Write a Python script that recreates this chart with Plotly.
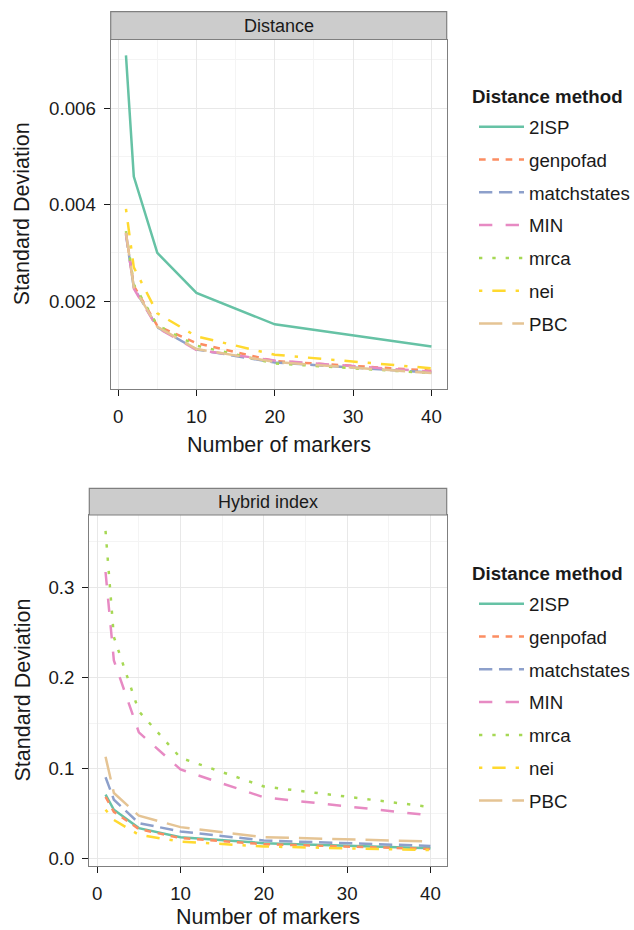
import plotly.graph_objects as go

# ---------------- data ----------------
markers = [1, 2, 5, 10, 20, 40]
methods = ["2ISP", "genpofad", "matchstates", "MIN", "mrca", "nei", "PBC"]

dist_2ISP = [0.00709, 0.00458, 0.00300, 0.00217, 0.00152, 0.00106]
dist_genpofad = [0.00341, 0.00232, 0.00149, 0.00113, 0.00076, 0.00056]
dist_matchstates = [0.00338, 0.00228, 0.00146, 0.00100, 0.00073, 0.00052]
dist_MIN = [0.00340, 0.00226, 0.00145, 0.00099, 0.00077, 0.00054]
dist_mrca = [0.00345, 0.00235, 0.00150, 0.00108, 0.00071, 0.00051]
dist_nei = [0.00391, 0.00270, 0.00175, 0.00127, 0.00089, 0.00061]
dist_PBC = [0.00342, 0.00229, 0.00147, 0.00101, 0.00074, 0.00051]

hyb_2ISP = [0.0710, 0.0543, 0.0340, 0.0240, 0.0174, 0.0118]
hyb_genpofad = [0.0684, 0.0520, 0.0330, 0.0230, 0.0163, 0.0110]
hyb_matchstates = [0.0902, 0.0654, 0.0395, 0.0303, 0.0203, 0.0144]
hyb_MIN = [0.3167, 0.2190, 0.1397, 0.0987, 0.0680, 0.0480]
hyb_mrca = [0.3620, 0.2450, 0.1630, 0.1116, 0.0800, 0.0573]
hyb_nei = [0.0543, 0.0430, 0.0266, 0.0192, 0.0137, 0.0098]
hyb_PBC = [0.1127, 0.0728, 0.0477, 0.0351, 0.0240, 0.0192]

x_ticks = [0, 10, 20, 30, 40]
dist_ticks = [0.002, 0.004, 0.006]
dist_ticktext = ["0.002", "0.004", "0.006"]
hyb_ticks = [0.0, 0.1, 0.2, 0.3]
hyb_ticktext = ["0.0", "0.1", "0.2", "0.3"]

dist_series = [dist_2ISP, dist_genpofad, dist_matchstates, dist_MIN, dist_mrca, dist_nei, dist_PBC]
hyb_series = [hyb_2ISP, hyb_genpofad, hyb_matchstates, hyb_MIN, hyb_mrca, hyb_nei, hyb_PBC]

# ---------------- styles ----------------
colors = ["#66C2A5", "#FC8D62", "#8DA0CB", "#E78AC3", "#A6D854", "#FFD92F", "#E5C494"]
u = 3.33
def pat(*units):
    return ",".join(f"{n*u:.2f}px" for n in units)
dashes = ["solid", pat(2, 2), pat(4, 2), pat(4, 4), pat(1, 3), pat(1, 3, 4, 3), pat(7, 3)]

W, H = 634, 930
FONT = "Liberation Sans, Arial, Helvetica, sans-serif"
INK = "#1a1a1a"
SMALL = 18.7

def px_x(p):
    return p / W
def px_y(p):
    return 1 - p / H

def expand(vals, f=0.05):
    lo, hi = min(vals), max(vals)
    d = (hi - lo) * f
    return [lo - d, hi + d]

fig = go.Figure()

panels = [
    dict(series=dist_series, xa="x", ya="y", legend="legend", grp="d"),
    dict(series=hyb_series, xa="x2", ya="y2", legend="legend2", grp="h"),
]
for p in panels:
    for name, ys, c, d in zip(methods, p["series"], colors, dashes):
        fig.add_trace(go.Scatter(
            x=markers, y=ys, mode="lines", name=name,
            line=dict(color=c, width=2.5, dash=d),
            xaxis=p["xa"], yaxis=p["ya"], legend=p["legend"],
            legendgroup=p["grp"] + name,
        ))

xr = expand(markers)
dist_all = [v for s in dist_series for v in s]
hyb_all = [v for s in hyb_series for v in s]

common_axis = dict(
    showline=True, linecolor="#7F7F7F", linewidth=1.2, mirror=True,
    ticks="outside", ticklen=6, tickwidth=1.3, tickcolor=INK,
    showgrid=True, gridcolor="#E8E8E8", gridwidth=1.2, zeroline=False,
    tickfont=dict(family=FONT, size=SMALL, color=INK),
    ticklabelstandoff=4,
)
title_font = dict(family=FONT, size=21.5, color=INK)
minor_style = dict(showgrid=True, gridcolor="#F4F4F4", gridwidth=1.0, ticks="")

# panel pixel boxes
top_box = dict(x0=110.7, x1=446.7, y0=39.5, y1=389.0, s0=11.7, leg=126, title=97, xt=445)
bot_box = dict(x0=89.3, x1=446.7, y0=515.0, y1=866.0, s0=488.3, leg=603, title=573, xt=916.5)

legend_common = dict(xanchor="left", yanchor="top",
                     font=dict(family=FONT, size=SMALL, color=INK), traceorder="grouped",
                     tracegroupgap=5.5, itemwidth=45, bgcolor="rgba(0,0,0,0)",
                     title=dict(text=""))

fig.update_layout(
    width=W, height=H, paper_bgcolor="white", plot_bgcolor="white",
    margin=dict(l=0, r=0, t=0, b=0, autoexpand=False),
    font=dict(family=FONT, color=INK),
    xaxis=dict(domain=[px_x(top_box["x0"]), px_x(top_box["x1"])], anchor="y",
               range=xr, tickvals=x_ticks, minor=dict(tickvals=[5, 15, 25, 35], **minor_style),
               **common_axis),
    yaxis=dict(domain=[px_y(top_box["y1"]), px_y(top_box["y0"])], anchor="x",
               range=expand(dist_all), tickvals=dist_ticks, ticktext=dist_ticktext,
               minor=dict(tickvals=[0.001, 0.003, 0.005, 0.007], **minor_style),
               **common_axis),
    xaxis2=dict(domain=[px_x(bot_box["x0"]), px_x(bot_box["x1"])], anchor="y2",
                range=xr, tickvals=x_ticks, minor=dict(tickvals=[5, 15, 25, 35], **minor_style),
                **common_axis),
    yaxis2=dict(domain=[px_y(bot_box["y1"]), px_y(bot_box["y0"])], anchor="x2",
                range=expand(hyb_all), tickvals=hyb_ticks, ticktext=hyb_ticktext,
                minor=dict(tickvals=[0.05, 0.15, 0.25, 0.35], **minor_style),
                **common_axis),
    legend=dict(x=px_x(474), y=px_y(top_box["leg"] - 18), **legend_common),
    legend2=dict(x=px_x(474), y=px_y(bot_box["leg"] - 18), **legend_common),
)

# facet strips, axis titles and legend titles
shapes = []
annotations = []
for box, label in [(top_box, "Distance"), (bot_box, "Hybrid index")]:
    cx = (px_x(box["x0"]) + px_x(box["x1"])) / 2
    shapes.append(dict(type="rect", xref="paper", yref="paper",
                       x0=px_x(box["x0"]), x1=px_x(box["x1"]),
                       y0=px_y(box["y0"]), y1=px_y(box["s0"]),
                       fillcolor="#CCCCCC", line=dict(color="#7F7F7F", width=1.2)))
    annotations.append(dict(xref="paper", yref="paper", x=cx,
                            y=(px_y(box["y0"]) + px_y(box["s0"])) / 2,
                            text=label, showarrow=False,
                            font=dict(family=FONT, size=18, color=INK),
                            xanchor="center", yanchor="middle"))
    annotations.append(dict(xref="paper", yref="paper", x=cx, y=px_y(box["xt"]),
                            text="Number of markers", showarrow=False, font=title_font,
                            xanchor="center", yanchor="middle", borderpad=0))
    annotations.append(dict(xref="paper", yref="paper", x=px_x(22),
                            y=(px_y(box["y0"]) + px_y(box["y1"])) / 2,
                            text="Standard Deviation", showarrow=False, font=title_font,
                            textangle=-90, xanchor="center", yanchor="middle"))
    annotations.append(dict(xref="paper", yref="paper",
                            x=px_x(470), y=px_y(box["title"]),
                            text="<b>Distance method</b>", showarrow=False,
                            font=dict(family=FONT, size=SMALL, color=INK),
                            xanchor="left", yanchor="middle"))
fig.update_layout(shapes=shapes, annotations=annotations)

fig.write_html("out.html", config={"displayModeBar": False},
               post_script="document.body.style.margin='0px';")
